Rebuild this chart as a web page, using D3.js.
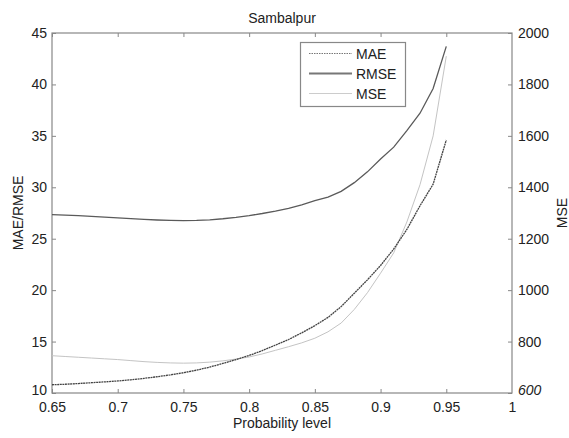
<!DOCTYPE html>
<html>
<head>
<meta charset="utf-8">
<script src="https://cdn.jsdelivr.net/npm/d3@7"></script>
<style>
  body { margin: 0; background: #fff; }
  text { font-family: "Liberation Sans", Arial, sans-serif; fill: #222; }
</style>
</head>
<body>
<script>
// probability levels (x) and the three error series
let prob = [0.65, 0.66, 0.67, 0.68, 0.69, 0.70, 0.71, 0.72, 0.73, 0.74, 0.75,
            0.76, 0.77, 0.78, 0.79, 0.80, 0.81, 0.82, 0.83, 0.84, 0.85,
            0.86, 0.87, 0.88, 0.89, 0.90, 0.91, 0.92, 0.93, 0.94, 0.95]

let mae = [10.80, 10.85, 10.92, 11.00, 11.08, 11.17, 11.28, 11.42, 11.58, 11.76, 11.97,
           12.22, 12.52, 12.87, 13.25, 13.65, 14.12, 14.65, 15.20, 15.85, 16.55,
           17.35, 18.40, 19.70, 21.00, 22.40, 24.00, 25.90, 28.20, 30.30, 34.60]

let rmse = [27.35, 27.30, 27.25, 27.18, 27.10, 27.02, 26.95, 26.88, 26.82, 26.78, 26.76,
            26.78, 26.84, 26.94, 27.08, 27.25, 27.45, 27.68, 27.95, 28.30, 28.70,
            29.05, 29.60, 30.45, 31.50, 32.75, 33.90, 35.50, 37.20, 39.60, 43.70]

let mse = [745, 742, 739, 736, 733, 730, 726, 722, 719, 717, 716,
           717, 720, 725, 732, 740, 752, 766, 780, 795, 813,
           838, 872, 925, 990, 1066, 1145, 1265, 1410, 1600, 1910]

let xTicks = [0.65, 0.7, 0.75, 0.8, 0.85, 0.9, 0.95, 1]
let leftTicks = [10, 15, 20, 25, 30, 35, 40, 45]
let rightTicks = [600, 800, 1000, 1200, 1400, 1600, 1800, 2000]

let W = 569, H = 438
let m = { left: 52, right: 512, top: 33, bottom: 393 }

let svg = d3.select("body").append("svg")
            .attr("width", W)
            .attr("height", H)

let x = d3.scaleLinear().domain([0.65, 1]).range([m.left, m.right])
let yL = d3.scaleLinear().domain([10, 45]).range([m.bottom, m.top])
let yR = d3.scaleLinear().domain([600, 2000]).range([m.bottom, m.top])

// axes, matlab style: ticks point inward
let fmt = d => String(d)

let gx = svg.append("g")
            .attr("transform", `translate(0,${m.bottom})`)
            .call(d3.axisBottom(x).tickValues(xTicks).tickFormat(fmt).tickSize(-4).tickPadding(9))
let gTop = svg.append("g")
              .attr("transform", `translate(0,${m.top})`)
              .call(d3.axisTop(x).tickValues(xTicks).tickFormat("").tickSize(-4))
let gl = svg.append("g")
            .attr("transform", `translate(${m.left},0)`)
            .call(d3.axisLeft(yL).tickValues(leftTicks).tickFormat(fmt).tickSize(-4).tickPadding(5))
let gr = svg.append("g")
            .attr("transform", `translate(${m.right},0)`)
            .call(d3.axisRight(yR).tickValues(rightTicks).tickFormat(fmt).tickSize(-4).tickPadding(6))

for (let g of [gx, gTop, gl, gr]) {
  g.select(".domain").remove()
  g.selectAll(".tick line").attr("stroke", "#888")
  g.selectAll(".tick text").attr("font-size", 14).attr("fill", "#222")
        .attr("font-family", '"Liberation Sans", Arial, sans-serif')
}
// bottom labels of the y axes sit a bit higher so they clear the x labels
gl.selectAll(".tick text").filter(d => d === 10).attr("dy", "0.12em")
gr.selectAll(".tick text").filter(d => d === 600).attr("dy", "0.12em")
  .attr("font-style", "italic") // the 600 label is drawn slanted in the original
// no tick marks on the right edge
gx.selectAll(".tick line").filter(d => d === 1).remove()
gTop.selectAll(".tick line").filter(d => d === 1).remove()

// frame
svg.append("rect")
   .attr("x", m.left).attr("y", m.top)
   .attr("width", m.right - m.left).attr("height", m.bottom - m.top)
   .attr("fill", "none")
   .attr("stroke", "#888")
   .attr("stroke-width", 1.2)

// lines
let lineL = d3.line().x((d, i) => x(prob[i])).y(d => yL(d))
let lineR = d3.line().x((d, i) => x(prob[i])).y(d => yR(d))

svg.append("path").datum(mse).attr("d", lineR)
   .attr("fill", "none").attr("stroke", "#c4c4c4").attr("stroke-width", 1)
svg.append("path").datum(rmse).attr("d", lineL)
   .attr("fill", "none").attr("stroke", "#5a5a5a").attr("stroke-width", 1.3)
svg.append("path").datum(mae).attr("d", lineL)
   .attr("fill", "none").attr("stroke", "#444").attr("stroke-width", 1.3)
   .attr("stroke-dasharray", "2,0.6")

// legend
let legend = svg.append("g")
legend.append("rect")
      .attr("x", 300.5).attr("y", 42.5).attr("width", 105).attr("height", 64)
      .attr("fill", "#fff").attr("stroke", "#888").attr("stroke-width", 1.2)

let items = [
  { name: "MAE", stroke: "#777", width: 1, dash: "1.5,1" },
  { name: "RMSE", stroke: "#777", width: 2, dash: null },
  { name: "MSE", stroke: "#ccc", width: 1, dash: null }
]
items.forEach((it, i) => {
  let yy = 53.5 + i * 20
  legend.append("line")
        .attr("x1", 309).attr("x2", 352).attr("y1", yy).attr("y2", yy)
        .attr("stroke", it.stroke).attr("stroke-width", it.width)
        .attr("stroke-dasharray", it.dash)
  legend.append("text")
        .attr("x", 356).attr("y", yy).attr("dy", "0.36em")
        .attr("font-size", 14)
        .text(it.name)
})

// titles
svg.append("text")
   .attr("x", (m.left + m.right) / 2).attr("y", 23)
   .attr("text-anchor", "middle").attr("font-size", 14)
   .text("Sambalpur")

svg.append("text")
   .attr("x", (m.left + m.right) / 2).attr("y", 428)
   .attr("text-anchor", "middle").attr("font-size", 14)
   .text("Probability level")

svg.append("text")
   .attr("transform", `translate(23,${(m.top + m.bottom) / 2}) rotate(-90)`)
   .attr("text-anchor", "middle").attr("font-size", 14)
   .text("MAE/RMSE")

svg.append("text")
   .attr("transform", `translate(567,${(m.top + m.bottom) / 2}) rotate(-90)`)
   .attr("text-anchor", "middle").attr("font-size", 14)
   .text("MSE")
</script>
</body>
</html>
